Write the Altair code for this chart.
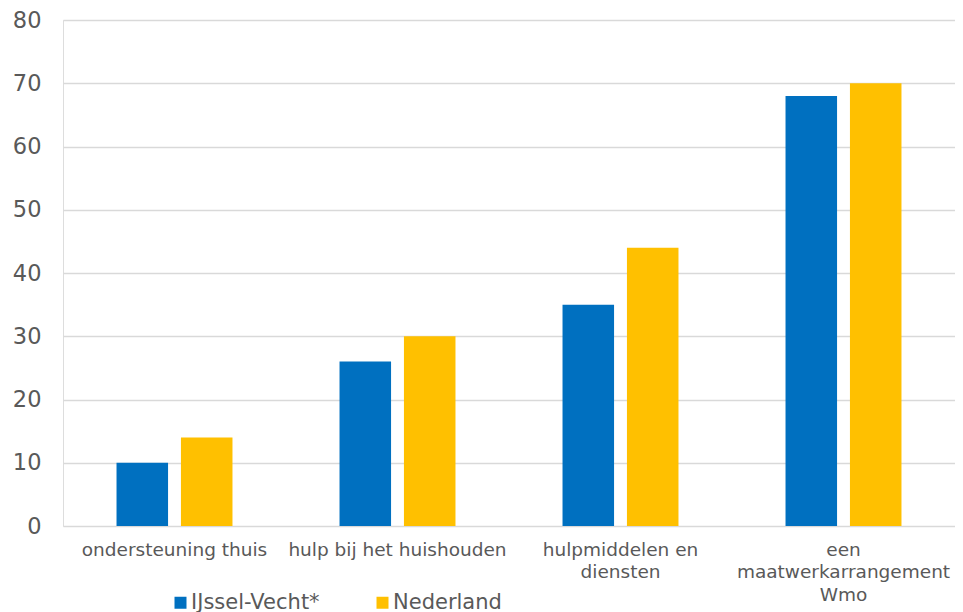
import altair as alt
import pandas as pd

categories = ["ondersteuning thuis", "hulp bij het huishouden",
              "hulpmiddelen en\ndiensten", "een\nmaatwerkarrangement\nWmo"]
series = ["IJssel-Vecht*", "Nederland"]
ijssel_vecht = [10, 26, 35, 68]
nederland = [14, 30, 44, 70]
colors = ["#0070C0", "#FFC000"]
y_ticks = [0, 10, 20, 30, 40, 50, 60, 70, 80]

rows = []
for c, a, b in zip(categories, ijssel_vecht, nederland):
    rows.append({"cat": c, "reeks": series[0], "waarde": a})
    rows.append({"cat": c, "reeks": series[1], "waarde": b})
df = pd.DataFrame(rows)

font = "DejaVu Sans"

chart = alt.Chart(df).mark_bar().encode(
    x=alt.X("cat:N", sort=categories, title=None,
            scale=alt.Scale(paddingInner=0.48, paddingOuter=0.24),
            axis=alt.Axis(labelAngle=0, labelExpr="split(datum.label, '\\n')",
                          labelFont=font, labelFontSize=18.5, labelColor="#595959",
                          labelLineHeight=22.5, labelPadding=14, ticks=False,
                          domain=False, grid=False, labelBaseline="top",
                          labelLimit=300)),
    xOffset=alt.XOffset("reeks:N", sort=series,
                        scale=alt.Scale(paddingInner=0.2, paddingOuter=0)),
    y=alt.Y("waarde:Q", title=None,
            scale=alt.Scale(domain=[0, 80], nice=False),
            axis=alt.Axis(values=y_ticks, labelFont=font, labelFontSize=22.5,
                          labelColor="#595959", labelPadding=22, ticks=False,
                          domain=False, gridColor="#D9D9D9", gridWidth=1.5)),
    color=alt.Color("reeks:N", sort=series,
                    scale=alt.Scale(domain=series, range=colors),
                    legend=alt.Legend(title=None, orient="none", direction="horizontal",
                                      legendX=107, legendY=572,
                                      symbolType="square", symbolSize=144,
                                      symbolStrokeWidth=0, symbolOffset=0,
                                      labelFont=font, labelFontSize=21,
                                      labelColor="#595959", labelOffset=0,
                                      columnPadding=52)),
).properties(
    width=892, height=506,
    autosize=alt.AutoSizeParams(type="none"),
    padding={"left": 55, "top": 12, "right": 0, "bottom": 90},
).configure_view(stroke=None).configure(background="white")

chart.save("out.html", embed_options={"renderer": "svg", "actions": False})
